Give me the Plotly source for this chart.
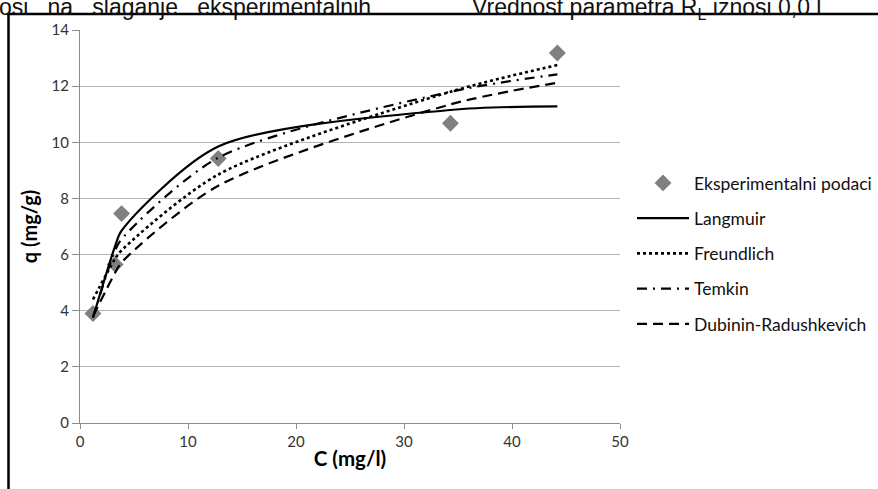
import plotly.graph_objects as go

# ---- data ----
C_exp = [1.2, 3.25, 3.85, 12.8, 34.3, 44.2]
q_exp = [3.9, 5.65, 7.46, 9.42, 10.68, 13.18]

C_model = [1.2, 3.25, 3.85, 12.8, 34.3, 44.2]
q_langmuir = [3.75, 6.3, 6.85, 9.85, 11.15, 11.28]
q_freundlich = [4.4, 5.85, 6.15, 8.85, 11.8, 12.75]
q_temkin = [3.75, 6.15, 6.55, 9.45, 11.8, 12.42]
q_dr = [3.8, 5.35, 5.72, 8.45, 11.35, 12.12]

series_names = ["Eksperimentalni podaci", "Langmuir", "Freundlich", "Temkin",
                "Dubinin-Radushkevich"]
x_ticks = [0, 10, 20, 30, 40, 50]
y_ticks = [0, 2, 4, 6, 8, 10, 12, 14]

W, H = 878, 489
ML, MR, MT, MB = 80, 0, 30, 66
PW = W - ML - MR
PH = H - MT - MB


def px_x(p):
    return (p - ML) / PW


def px_y(p):
    return (H - MB - p) / PH


fig = go.Figure()

fig.add_trace(go.Scatter(
    x=C_exp, y=q_exp, mode="markers", name=series_names[0], legendgroup="a",
    marker=dict(symbol="diamond", size=13, color="#808080", line=dict(width=0)),
))
line_w = 2.2
fig.add_trace(go.Scatter(
    x=C_model, y=q_langmuir, mode="lines", name=series_names[1], legendgroup="b",
    line=dict(color="black", width=line_w, shape="spline", smoothing=0.8),
))
fig.add_trace(go.Scatter(
    x=C_model, y=q_freundlich, mode="lines", name=series_names[2], legendgroup="c",
    line=dict(color="black", width=2.6, dash="dot", shape="spline", smoothing=0.8),
))
fig.add_trace(go.Scatter(
    x=C_model, y=q_temkin, mode="lines", name=series_names[3], legendgroup="d",
    line=dict(color="black", width=line_w, dash="10px,6px,2px,6px", shape="spline",
              smoothing=0.8),
))
fig.add_trace(go.Scatter(
    x=C_model, y=q_dr, mode="lines", name=series_names[4], legendgroup="e",
    line=dict(color="black", width=line_w, dash="10px,6px", shape="spline",
              smoothing=0.8),
))

base_font = "Lato, Open Sans, sans-serif"
tick_font = dict(family=base_font, size=15, color="#333")

fig.update_layout(
    width=W, height=H,
    margin=dict(l=ML, r=MR, t=MT, b=MB, autoexpand=False),
    paper_bgcolor="white", plot_bgcolor="white",
    font=dict(family=base_font, size=14, color="black"),
    showlegend=True,
    legend=dict(
        x=px_x(632), y=px_y(165), xanchor="left", yanchor="top",
        font=dict(family=base_font, size=17.5, color="#111"),
        tracegroupgap=9.5, itemwidth=52, bgcolor="rgba(0,0,0,0)",
    ),
    xaxis=dict(
        domain=[0, (620 - ML) / PW], range=[0, 50], tickvals=x_ticks,
        showgrid=False, zeroline=False, showline=True, linecolor="#8c8c8c",
        linewidth=1, ticks="outside", ticklen=5, tickcolor="#8c8c8c",
        tickfont=tick_font, automargin=False,
        title=dict(text="<b>C (mg/l)</b>", font=dict(size=20.5, color="black"),
                   standoff=2),
    ),
    yaxis=dict(
        range=[0, 14], tickvals=y_ticks, showgrid=True, gridcolor="#b4b4b4",
        gridwidth=1, zeroline=False, showline=True, linecolor="#8c8c8c",
        linewidth=1, ticks="outside", ticklen=7, tickcolor="#8c8c8c",
        tickfont=tick_font, automargin=False,
        title=dict(text="<b>q (mg/g)</b>", font=dict(size=20, color="black"),
                   standoff=8),
    ),
)

# document frame lines around the chart object
fig.add_shape(type="line", xref="paper", yref="paper",
              x0=px_x(8.5), x1=px_x(8.5), y0=px_y(14), y1=px_y(495),
              line=dict(color="black", width=2.5))
fig.add_shape(type="line", xref="paper", yref="paper",
              x0=px_x(7), x1=px_x(890), y0=px_y(14), y1=px_y(14),
              line=dict(color="black", width=2.5))

# surrounding document text (cut by the crop, as in the source page)
doc_font = dict(family="Liberation Sans, Arial, sans-serif", size=23, color="#111")
fig.add_annotation(xref="paper", yref="paper", x=px_x(-3), y=px_y(-8),
                   xanchor="left", yanchor="top", showarrow=False,
                   text="osi &nbsp;&nbsp;na &nbsp;&nbsp;slaganje &nbsp;&nbsp;eksperimentalnih",
                   font=doc_font)
fig.add_annotation(xref="paper", yref="paper", x=px_x(470), y=px_y(-8),
                   xanchor="left", yanchor="top", showarrow=False,
                   text="Vrednost parametra R<sub>L</sub> iznosi 0,0 l",
                   font=doc_font)

fig.write_html(
    "out.html",
    config={"displayModeBar": False},
    post_script="document.body.style.margin='0';document.body.style.overflow='hidden';",
)
